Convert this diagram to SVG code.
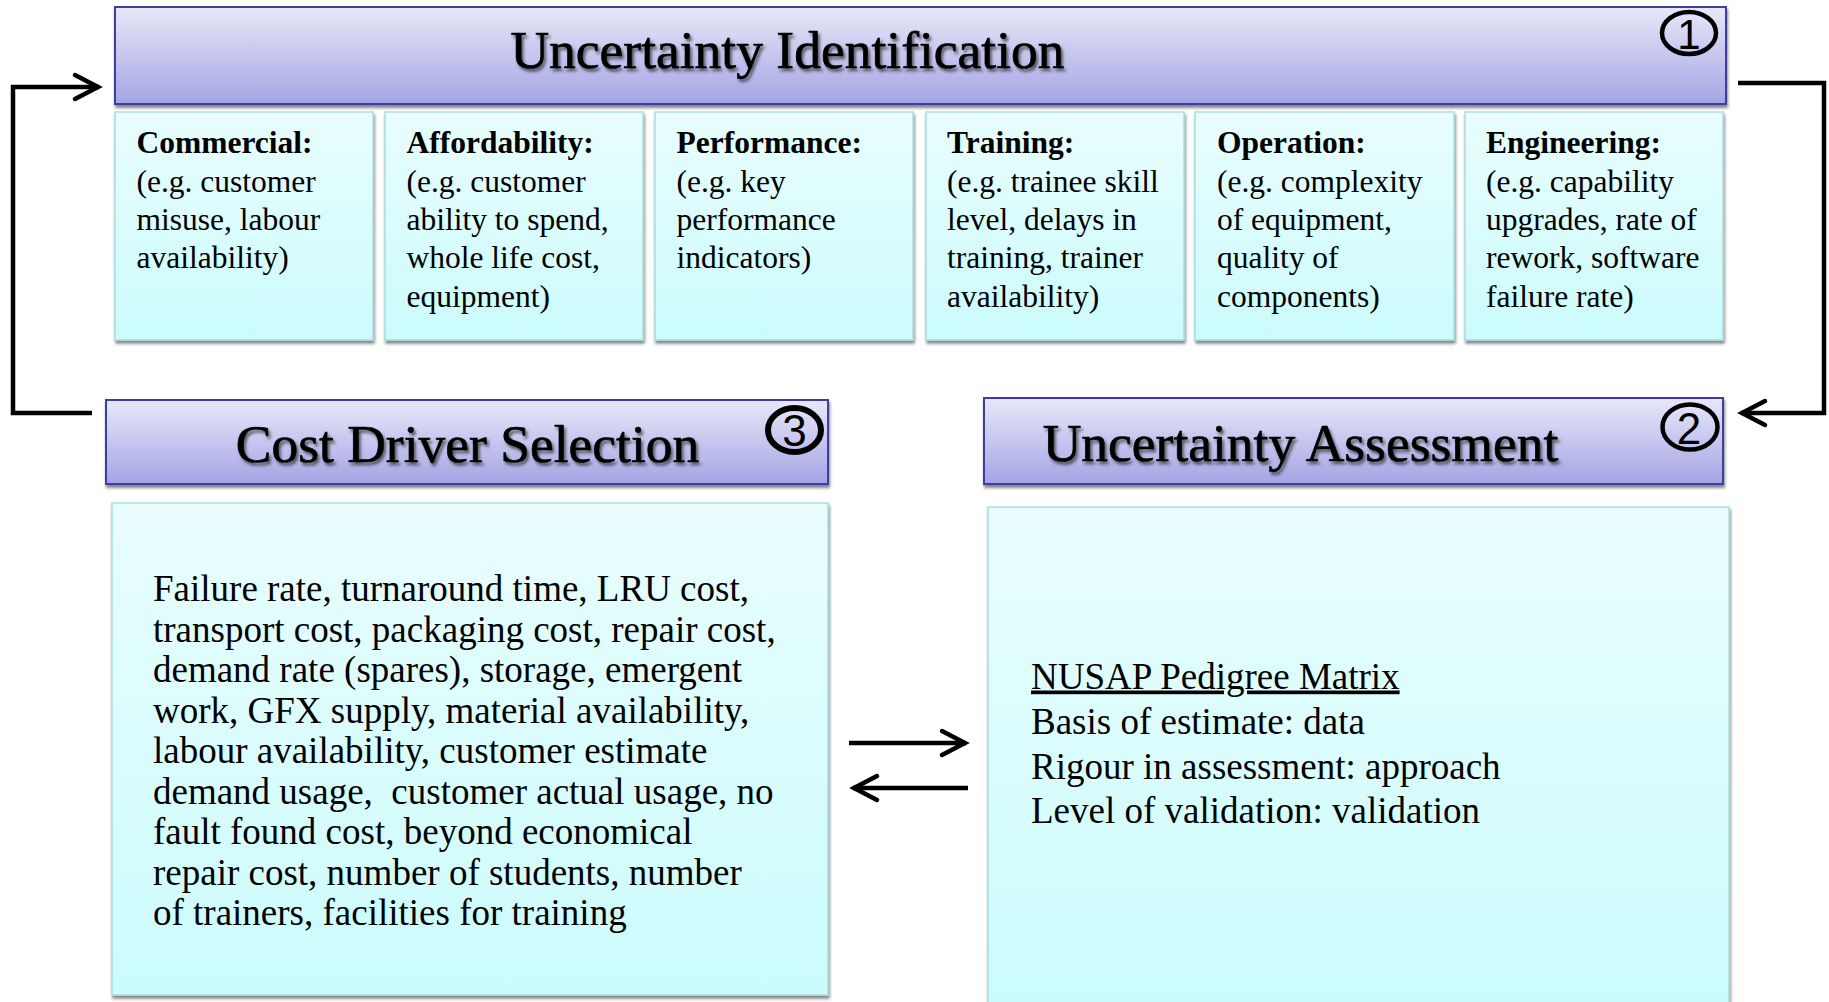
<svg xmlns="http://www.w3.org/2000/svg" width="1829" height="1002" viewBox="0 0 1829 1002">
  <defs>
    <linearGradient id="hdrGrad" x1="0" y1="0" x2="0" y2="1">
      <stop offset="0" stop-color="#e8e8f9"/>
      <stop offset="1" stop-color="#a4a4e5"/>
    </linearGradient>
    <linearGradient id="cellGrad" x1="0" y1="0" x2="0" y2="1">
      <stop offset="0" stop-color="#e9fdfd"/>
      <stop offset="1" stop-color="#cbfbfc"/>
    </linearGradient>
    <filter id="boxShadow" x="-5%" y="-5%" width="115%" height="125%">
      <feDropShadow dx="1" dy="3" stdDeviation="1.8" flood-color="#222" flood-opacity="0.55"/>
    </filter>
    <filter id="textShadow" x="-5%" y="-20%" width="110%" height="150%">
      <feDropShadow dx="2" dy="3" stdDeviation="1.5" flood-color="#333" flood-opacity="0.75"/>
    </filter>
    <marker id="chev" viewBox="-30 -20 40 40" refX="1" refY="0" markerWidth="40" markerHeight="40" markerUnits="userSpaceOnUse" orient="auto">
      <path d="M-23,-12 L0,0 L-23,12" fill="none" stroke="#000" stroke-width="4.5" stroke-linecap="round"/>
    </marker>
  </defs>
  <style>
    .hdr { fill: url(#hdrGrad); stroke: #3c3ca2; stroke-width: 2; filter: url(#boxShadow); }
    .cell { fill: url(#cellGrad); stroke: #a9dede; stroke-width: 1.5; filter: url(#boxShadow); }
    .title { font-family: "Liberation Serif", "Times New Roman", serif; font-size: 53.5px; fill: #000; stroke: #000; stroke-width: 0.7px; text-anchor: middle; filter: url(#textShadow); }
    .ctext { font-family: "Liberation Serif", "Times New Roman", serif; font-size: 31.5px; fill: #000; }
    .ctext .h { font-weight: bold; }
    .btext { font-family: "Liberation Serif", "Times New Roman", serif; font-size: 37px; fill: #000; white-space: pre; }
    .badge { fill: none; stroke: #000; stroke-width: 4.5; }
    .badgeNum { font-family: "Liberation Sans", Arial, sans-serif; font-size: 44px; fill: #000; text-anchor: middle; }
    .conn { fill: none; stroke: #000; stroke-width: 4.5; marker-end: url(#chev); }
  </style>

  <!-- connectors -->
  <g id="connectors">
    <path class="conn" d="M92,413 H13 V87 H99"/>
    <path class="conn" d="M1738,83 H1824 V413 H1741"/>
    <path class="conn" d="M849,743 H966"/>
    <path class="conn" d="M968,788 H853"/>
  </g>

  <!-- step 1: uncertainty identification -->
  <g id="uncertainty-identification">
    <rect class="hdr" x="115" y="7" width="1611" height="97"/>
    <text class="title" x="787.5" y="68">Uncertainty Identification</text>
    <ellipse class="badge" cx="1689" cy="33" rx="27" ry="21"/>
    <text class="badgeNum" x="1689" y="49" style="font-size:42px">1</text>
  </g>

  <g id="cat-commercial">
    <rect class="cell" x="115" y="112" width="258" height="228"/>
    <text class="ctext" x="136.5">
      <tspan class="h" x="136.5" y="153.3">Commercial:</tspan>
      <tspan x="136.5" y="191.6">(e.g. customer</tspan>
      <tspan x="136.5" y="229.9">misuse, labour</tspan>
      <tspan x="136.5" y="268.2">availability)</tspan>
    </text>
  </g>

  <g id="cat-affordability">
    <rect class="cell" x="385" y="112" width="258" height="228"/>
    <text class="ctext" x="406.5">
      <tspan class="h" x="406.5" y="153.3">Affordability:</tspan>
      <tspan x="406.5" y="191.6">(e.g. customer</tspan>
      <tspan x="406.5" y="229.9">ability to spend,</tspan>
      <tspan x="406.5" y="268.2">whole life cost,</tspan>
      <tspan x="406.5" y="306.5">equipment)</tspan>
    </text>
  </g>

  <g id="cat-performance">
    <rect class="cell" x="655" y="112" width="258" height="228"/>
    <text class="ctext" x="676.5">
      <tspan class="h" x="676.5" y="153.3">Performance:</tspan>
      <tspan x="676.5" y="191.6">(e.g. key</tspan>
      <tspan x="676.5" y="229.9">performance</tspan>
      <tspan x="676.5" y="268.2">indicators)</tspan>
    </text>
  </g>

  <g id="cat-training">
    <rect class="cell" x="926" y="112" width="258" height="228"/>
    <text class="ctext" x="947">
      <tspan class="h" x="947" y="153.3">Training:</tspan>
      <tspan x="947" y="191.6">(e.g. trainee skill</tspan>
      <tspan x="947" y="229.9">level, delays in</tspan>
      <tspan x="947" y="268.2">training, trainer</tspan>
      <tspan x="947" y="306.5">availability)</tspan>
    </text>
  </g>

  <g id="cat-operation">
    <rect class="cell" x="1195" y="112" width="259" height="228"/>
    <text class="ctext" x="1217">
      <tspan class="h" x="1217" y="153.3">Operation:</tspan>
      <tspan x="1217" y="191.6">(e.g. complexity</tspan>
      <tspan x="1217" y="229.9">of equipment,</tspan>
      <tspan x="1217" y="268.2">quality of</tspan>
      <tspan x="1217" y="306.5">components)</tspan>
    </text>
  </g>

  <g id="cat-engineering">
    <rect class="cell" x="1465" y="112" width="258" height="228"/>
    <text class="ctext" x="1486">
      <tspan class="h" x="1486" y="153.3">Engineering:</tspan>
      <tspan x="1486" y="191.6">(e.g. capability</tspan>
      <tspan x="1486" y="229.9">upgrades, rate of</tspan>
      <tspan x="1486" y="268.2">rework, software</tspan>
      <tspan x="1486" y="306.5">failure rate)</tspan>
    </text>
  </g>

  <!-- step 3: cost driver selection -->
  <g id="cost-driver-selection">
    <rect class="hdr" x="106" y="400" width="722" height="84"/>
    <text class="title" x="467.5" y="462">Cost Driver Selection</text>
    <ellipse class="badge" cx="794.5" cy="430" rx="26.5" ry="22" style="stroke-width:6"/>
    <text class="badgeNum" x="794.5" y="446">3</text>
  </g>

  <g id="cost-driver-list">
    <rect class="cell" x="112" y="503" width="716" height="492"/>
    <text class="btext">
      <tspan x="153" y="601">Failure rate, turnaround time, LRU cost,</tspan>
      <tspan x="153" y="641.5">transport cost, packaging cost, repair cost,</tspan>
      <tspan x="153" y="682">demand rate (spares), storage, emergent</tspan>
      <tspan x="153" y="722.5">work, GFX supply, material availability,</tspan>
      <tspan x="153" y="763">labour availability, customer estimate</tspan>
      <tspan x="153" y="803.5">demand usage,  customer actual usage, no</tspan>
      <tspan x="153" y="844">fault found cost, beyond economical</tspan>
      <tspan x="153" y="884.5">repair cost, number of students, number</tspan>
      <tspan x="153" y="925">of trainers, facilities for training</tspan>
    </text>
  </g>

  <!-- step 2: uncertainty assessment -->
  <g id="uncertainty-assessment">
    <rect class="hdr" x="984" y="398" width="739" height="86"/>
    <text class="title" x="1300.5" y="461">Uncertainty Assessment</text>
    <ellipse class="badge" cx="1690" cy="427" rx="27.5" ry="22.5"/>
    <text class="badgeNum" x="1689" y="444">2</text>
  </g>

  <g id="nusap-matrix">
    <rect class="cell" x="988" y="507" width="741" height="500"/>
    <text class="btext">
      <tspan x="1031" y="688.5" text-decoration="underline">NUSAP Pedigree Matrix</tspan>
      <tspan x="1031" y="733.5">Basis of estimate: data</tspan>
      <tspan x="1031" y="778.5">Rigour in assessment: approach</tspan>
      <tspan x="1031" y="823">Level of validation: validation</tspan>
    </text>
  </g>
</svg>
